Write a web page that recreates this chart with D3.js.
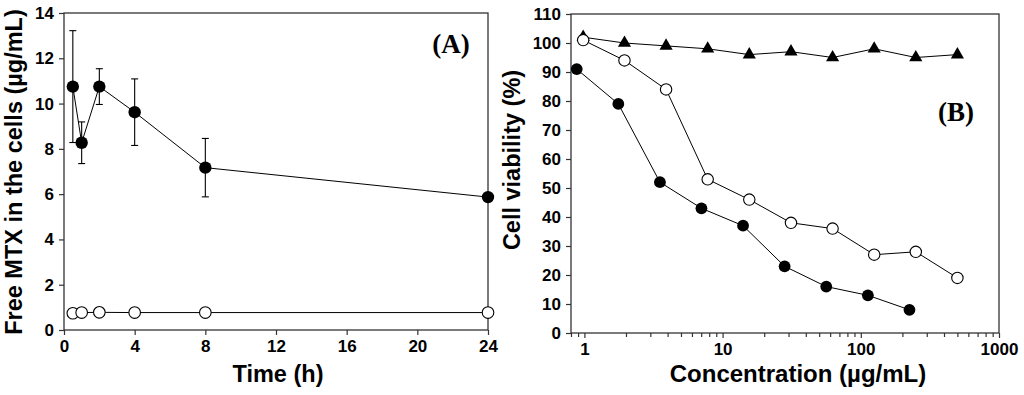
<!DOCTYPE html>
<html>
<head>
<meta charset="utf-8">
<script src="https://cdn.jsdelivr.net/npm/d3@7/dist/d3.min.js"></script>
<style>
  html, body { margin: 0; padding: 0; background: #fff; }
  svg { display: block; }
  text { font-family: "Liberation Sans", Arial, sans-serif; font-weight: bold; fill: #000; }
</style>
</head>
<body>
<svg id="chart" width="1024" height="395"></svg>
<script>
// ---------- Panel A data ----------
const timeH = [0.5, 1, 2, 4, 8, 24];
const mtxNano = [10.75, 8.27, 10.75, 9.62, 7.17, 5.87];
const mtxNanoErr = [2.47, 0.92, 0.79, 1.47, 1.29, 0];
const mtxFree = [0.74, 0.77, 0.78, 0.77, 0.77, 0.77];
const timeTicks = [0, 4, 8, 12, 16, 20, 24];
const mtxTicks = [0, 2, 4, 6, 8, 10, 12, 14];

// ---------- Panel B data ----------
const concFilled = [0.88, 1.76, 3.52, 7.03, 14.06, 28.1, 56.25, 112.5, 225];
const viabFilled = [91, 79, 52, 43, 37, 23, 16, 13, 8];
const concOpen = [0.98, 1.95, 3.9, 7.8, 15.6, 31.25, 62.5, 125, 250, 500];
const viabOpen = [101, 94, 84, 53, 46, 38, 36, 27, 28, 19];
const concTri = [0.98, 1.95, 3.9, 7.8, 15.6, 31.25, 62.5, 125, 250, 500];
const viabTri = [102, 100, 99, 98, 96, 97, 95, 98, 95, 96];
const concTicks = [1, 10, 100, 1000];
const viabTicks = [0, 10, 20, 30, 40, 50, 60, 70, 80, 90, 100, 110];

const svg = d3.select("#chart");
const frameColor = "#333";

function frame(g, x0, x1, y0, y1) {
  g.append("rect").attr("x", x0).attr("y", y0)
    .attr("width", x1 - x0).attr("height", y1 - y0)
    .attr("fill", "none").attr("stroke", frameColor).attr("stroke-width", 1.3);
}

function styleAxis(sel) {
  sel.select(".domain").remove();
  sel.selectAll(".tick line").attr("stroke", frameColor).attr("stroke-width", 1.2);
  sel.selectAll(".tick text").style("font-size", "17px").style("font-weight", "bold")
    .style("font-family", '"Liberation Sans", Arial, sans-serif').attr("fill", "#000");
}

// ================= Panel A =================
{
  const g = svg.append("g");
  const x = d3.scaleLinear().domain([0, 24]).range([64, 488]);
  const y = d3.scaleLinear().domain([0, 14]).range([330, 13]);

  const xa = g.append("g").attr("transform", "translate(0,330)")
    .call(d3.axisBottom(x).tickValues(timeTicks).tickSize(5).tickPadding(5).tickFormat(d3.format("d")));
  styleAxis(xa);
  const ya = g.append("g").attr("transform", "translate(64,0)")
    .call(d3.axisLeft(y).tickValues(mtxTicks).tickSize(5).tickPadding(5).tickFormat(d3.format("d")));
  styleAxis(ya);
  frame(g, 64, 488, 13, 330);

  const line = d3.line().x(d => x(d[0])).y(d => y(d[1]));
  const nano = timeH.map((t, i) => [t, mtxNano[i], mtxNanoErr[i]]);
  const free = timeH.map((t, i) => [t, mtxFree[i]]);

  // error bars
  const eb = g.append("g").attr("stroke", "#000").attr("stroke-width", 1.1);
  nano.filter(d => d[2] > 0).forEach(d => {
    const cx = x(d[0]), top = y(d[1] + d[2]), bot = y(d[1] - d[2]);
    eb.append("line").attr("x1", cx).attr("x2", cx).attr("y1", top).attr("y2", bot);
    eb.append("line").attr("x1", cx - 3.5).attr("x2", cx + 3.5).attr("y1", top).attr("y2", top);
    eb.append("line").attr("x1", cx - 3.5).attr("x2", cx + 3.5).attr("y1", bot).attr("y2", bot);
  });

  g.append("path").datum(free).attr("d", line).attr("fill", "none").attr("stroke", "#000").attr("stroke-width", 1);
  g.append("path").datum(nano).attr("d", line).attr("fill", "none").attr("stroke", "#000").attr("stroke-width", 1);

  g.selectAll(".fo").data(free).join("circle")
    .attr("cx", d => x(d[0])).attr("cy", d => y(d[1])).attr("r", 5.8)
    .attr("fill", "#fff").attr("stroke", "#000").attr("stroke-width", 1.1);
  g.selectAll(".fn").data(nano).join("circle")
    .attr("cx", d => x(d[0])).attr("cy", d => y(d[1])).attr("r", 6.2)
    .attr("fill", "#000");

  g.append("text").attr("x", 451).attr("y", 53).attr("text-anchor", "middle")
    .style("font-family", '"Liberation Serif", "Times New Roman", serif')
    .style("font-size", "27px").text("(A)");

  g.append("text").attr("x", 278).attr("y", 382).attr("text-anchor", "middle")
    .style("font-size", "23.5px").text("Time (h)");
  g.append("text").attr("transform", "translate(22,172) rotate(-90)").attr("text-anchor", "middle")
    .style("font-size", "23.5px").text("Free MTX in the cells (µg/mL)");
}

// ================= Panel B =================
{
  const g = svg.append("g");
  const x = d3.scaleLog().domain([0.8, 1000]).range([571, 999]);
  const y = d3.scaleLinear().domain([0, 110]).range([333, 14]);

  // minor log ticks
  const minor = [];
  [0.1, 1, 10, 100].forEach(dec => {
    for (let k = 2; k <= 9; k++) {
      const v = dec * k;
      if (v >= 0.8 && v <= 1000) minor.push(v);
    }
  });
  const xm = g.append("g").attr("transform", "translate(0,333)")
    .call(d3.axisBottom(x).tickValues(minor).tickSize(4).tickFormat(""));
  styleAxis(xm);
  const xa = g.append("g").attr("transform", "translate(0,333)")
    .call(d3.axisBottom(x).tickValues(concTicks).tickSize(5).tickPadding(5).tickFormat(d3.format("d")));
  styleAxis(xa);
  const ya = g.append("g").attr("transform", "translate(571,0)")
    .call(d3.axisLeft(y).tickValues(viabTicks).tickSize(5).tickPadding(5).tickFormat(d3.format("d")));
  styleAxis(ya);
  frame(g, 571, 999, 14, 333);

  const line = d3.line().x(d => x(d[0])).y(d => y(d[1]));
  const tri = concTri.map((c, i) => [c, viabTri[i]]);
  const open = concOpen.map((c, i) => [c, viabOpen[i]]);
  const filled = concFilled.map((c, i) => [c, viabFilled[i]]);

  [tri, open, filled].forEach(s => {
    g.append("path").datum(s).attr("d", line).attr("fill", "none").attr("stroke", "#000").attr("stroke-width", 1);
  });

  g.selectAll(".tr").data(tri).join("path")
    .attr("transform", d => `translate(${x(d[0])},${y(d[1])})`)
    .attr("d", d3.symbol().type(d3.symbolTriangle).size(75))
    .attr("fill", "#000");
  g.selectAll(".op").data(open).join("circle")
    .attr("cx", d => x(d[0])).attr("cy", d => y(d[1])).attr("r", 5.7)
    .attr("fill", "#fff").attr("stroke", "#000").attr("stroke-width", 1.1);
  g.selectAll(".fi").data(filled).join("circle")
    .attr("cx", d => x(d[0])).attr("cy", d => y(d[1])).attr("r", 5.9)
    .attr("fill", "#000");

  g.append("text").attr("x", 956).attr("y", 121).attr("text-anchor", "middle")
    .style("font-family", '"Liberation Serif", "Times New Roman", serif')
    .style("font-size", "27px").text("(B)");

  g.append("text").attr("x", 798).attr("y", 382).attr("text-anchor", "middle")
    .style("font-size", "24px").text("Concentration (µg/mL)");
  g.append("text").attr("transform", "translate(520,160) rotate(-90)").attr("text-anchor", "middle")
    .style("font-size", "23.5px").text("Cell viability (%)");
}
</script>
</body>
</html>
